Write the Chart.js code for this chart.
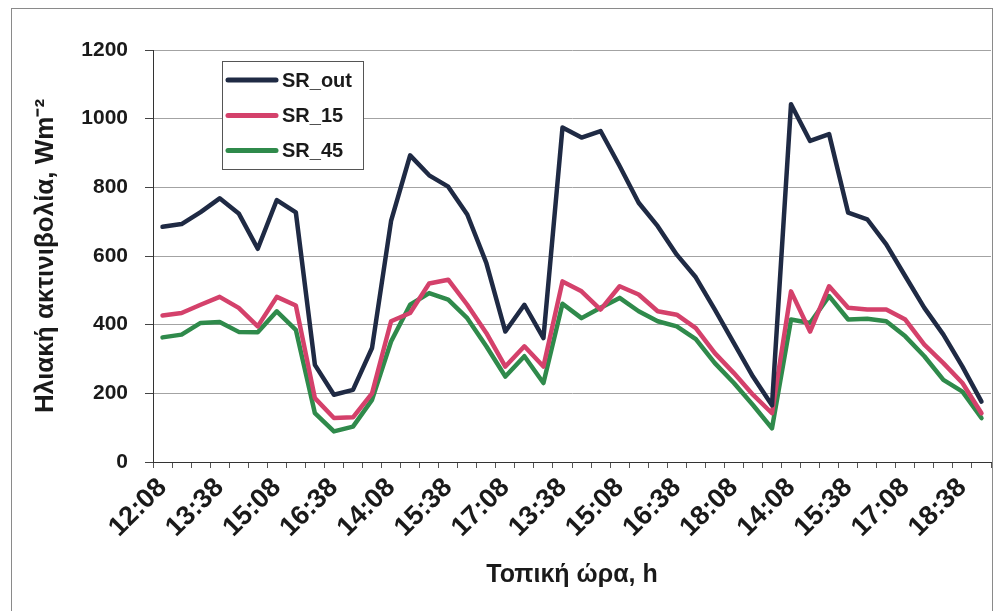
<!DOCTYPE html>
<html>
<head>
<meta charset="utf-8">
<script src="https://cdn.jsdelivr.net/npm/chart.js@4.4.1/dist/chart.umd.min.js"></script>
<style>
  html, body { margin: 0; padding: 0; background: #ffffff; }
  #wrap { width: 997px; height: 611px; }
</style>
</head>
<body>
<div id="wrap"><canvas id="c" width="997" height="611"></canvas></div>
<script>
// Local time of each half-hourly reading (four measurement days in a row)
const timeLabels = [
  '12:08','12:38','13:08','13:38','14:08','14:38','15:08','15:38','16:08','16:38',
  '13:08','13:38','14:08','14:38','15:08','15:38','16:08','16:38','17:08','17:38',
  '13:08','13:38','14:08','14:38','15:08','15:38','16:08','16:38','17:08','17:38','18:08','18:38','19:08',
  '14:08','14:38','15:08','15:38','16:08','16:38','17:08','17:38','18:08','18:38','19:08'
];

// Solar radiation, W/m2
const srOut = [685, 693, 728, 768, 724, 621, 763, 727, 283, 196,
               210, 332, 702, 893, 835, 802, 721, 580, 380, 458,
               361, 974, 945, 964, 862, 755, 687, 604, 538, 444, 346, 249, 165,
               1042, 935, 955, 726, 707, 634, 541, 449, 371, 278, 176];
const sr15  = [427, 434, 458, 481, 449, 395, 481, 456, 186, 128,
               130, 200, 410, 434, 520, 531, 458, 376, 278, 337,
               278, 526, 497, 444, 512, 488, 439, 429, 390, 317, 259, 196, 142,
               497, 380, 512, 449, 444, 444, 415, 342, 288, 230, 142];
const sr45  = [363, 371, 405, 408, 379, 378, 439, 385, 142, 89,
               103, 181, 351, 458, 492, 473, 419, 337, 249, 308,
               230, 461, 419, 449, 478, 439, 410, 395, 358, 288, 230, 166, 98,
               415, 405, 483, 415, 417, 410, 366, 308, 239, 205, 128];

const seriesNames = ['SR_out', 'SR_15', 'SR_45'];
const seriesColors = ['#1f2a44', '#d4416b', '#2f8a4b'];
const yMin = 0, yMax = 1200, yStep = 200;
const labelEvery = 3;

const FONT = "'Liberation Sans', Arial, sans-serif";

// White page with a thin frame around the figure
const framePlugin = {
  id: 'frame',
  beforeDraw(chart) {
    const ctx = chart.ctx;
    ctx.save();
    ctx.fillStyle = '#ffffff';
    ctx.fillRect(0, 0, chart.width, chart.height);
    ctx.strokeStyle = '#8a8a8a';
    ctx.lineWidth = 1;
    ctx.strokeRect(11.5, 8.5, 981, 610);
    ctx.restore();
  }
};

// Boxed legend inside the plot area, top-left
const boxLegend = {
  id: 'boxLegend',
  afterDraw(chart) {
    const ctx = chart.ctx;
    const x0 = 222.5, y0 = 61.5, w = 141, h = 108;
    ctx.save();
    ctx.fillStyle = '#ffffff';
    ctx.fillRect(x0, y0, w, h);
    ctx.strokeStyle = '#555555';
    ctx.lineWidth = 1;
    ctx.strokeRect(x0, y0, w, h);
    ctx.font = 'bold 20px ' + FONT;
    ctx.textBaseline = 'middle';
    ctx.textAlign = 'left';
    const rowY = [80, 115.5, 150.5];
    chart.data.datasets.forEach((ds, i) => {
      ctx.strokeStyle = ds.borderColor;
      ctx.lineWidth = 5;
      ctx.lineCap = 'round';
      ctx.beginPath();
      ctx.moveTo(228, rowY[i]);
      ctx.lineTo(276, rowY[i]);
      ctx.stroke();
      ctx.fillStyle = '#1a1a1a';
      ctx.fillText(ds.label, 282, rowY[i] + 1);
    });
    ctx.restore();
  }
};

new Chart(document.getElementById('c'), {
  type: 'line',
  data: {
    labels: timeLabels,
    datasets: [
      { label: seriesNames[0], data: srOut, borderColor: seriesColors[0] },
      { label: seriesNames[1], data: sr15,  borderColor: seriesColors[1] },
      { label: seriesNames[2], data: sr45,  borderColor: seriesColors[2] }
    ]
  },
  options: {
    responsive: false,
    animation: false,
    layout: { padding: { left: 12, right: 6, top: 50, bottom: 0 } },
    elements: {
      line: { borderWidth: 4.5, tension: 0, borderJoinStyle: 'round', borderCapStyle: 'round' },
      point: { radius: 0, hoverRadius: 0 }
    },
    plugins: {
      legend: { display: false },
      tooltip: { enabled: false }
    },
    scales: {
      x: {
        type: 'category',
        offset: true,
        afterFit(scale) {
          scale.height = 149;
          scale.paddingLeft = 0;
          scale.paddingRight = 0;
        },
        grid: {
          offset: true,
          drawOnChartArea: false,
          drawTicks: true,
          tickLength: 6,
          tickColor: '#555555'
        },
        border: { display: true, color: '#333333', width: 1 },
        ticks: {
          autoSkip: false,
          maxRotation: 45,
          minRotation: 45,
          padding: 4,
          color: '#1a1a1a',
          font: { family: FONT, size: 27, weight: 'bold' },
          callback(value, index) {
            return index % labelEvery === 0 ? this.getLabelForValue(value) : '';
          }
        },
        title: {
          display: true,
          text: 'Τοπική ώρα, h',
          color: '#1a1a1a',
          font: { family: FONT, size: 25, weight: 'bold' },
          padding: { top: 0, bottom: 21 }
        }
      },
      y: {
        min: yMin,
        max: yMax,
        afterFit(scale) { scale.width = 141; },
        grid: {
          color: '#a3a3a3',
          lineWidth: 1,
          drawTicks: true,
          tickLength: 8,
          tickColor: '#444444'
        },
        border: { display: true, color: '#333333', width: 1 },
        ticks: {
          stepSize: yStep,
          padding: 17,
          color: '#1a1a1a',
          font: { family: FONT, size: 21, weight: 'bold' },
          callback(value) { return String(value); }
        },
        title: {
          display: true,
          text: 'Ηλιακή ακτινιβολία, Wm⁻²',
          color: '#1a1a1a',
          font: { family: FONT, size: 26, weight: 'bold' },
          padding: { top: 18, bottom: 0 }
        }
      }
    }
  },
  plugins: [framePlugin, boxLegend]
});
</script>
</body>
</html>
